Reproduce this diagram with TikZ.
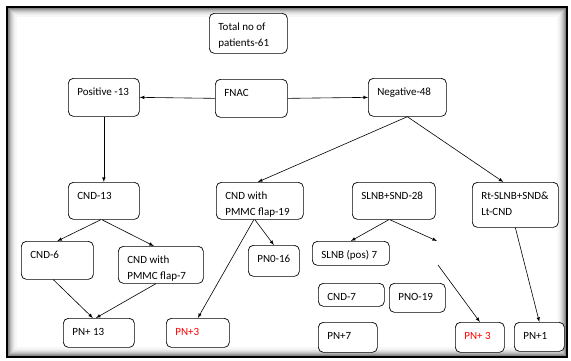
\documentclass[tikz,border=0pt]{standalone}
\usepackage{fontspec}
\setmainfont{Carlito}
\usepackage{tikz}
\tikzset{
    every node/.style={font=\fontsize{11}{16}\selectfont}
}
\tikzset{
    blk/.style={draw, rounded corners=5pt, line width=0.7pt, inner sep=0pt,
    	anchor=north west, fill=white}
}
\tikzset{
    every edge/.append style={->, >=latex, line width=0.6pt}
}
\newcommand{\boxlabel}[3]{\parbox[t][#2pt][t]{#1pt}{\leftskip=9pt
  \rightskip=0pt plus 1fil\rule{0pt}{17pt}#3}}

\begin{document}
\begin{tikzpicture}[x=1pt, y=-1pt]
  \useasboundingbox (0,0) rectangle (571,360);
  % frame with inner shadow
  \foreach \i/\c in {1/60,2/48,3/38,4/29,5/21,6/15,7/10,8/6,9/3}
    \draw [line width=1.2pt, black!\c] (7+\i,7+\i) rectangle (567-\i,357-\i);
  \draw [line width=1.5pt] (7,7) rectangle (567,357);

  \node (total) [blk] at (209,13) {\boxlabel{78}{40}{Total no of\\patients-61}};
  \node (pos) [blk] at (68,78) {\boxlabel{71}{38}{Positive -13}};
  \node (fnac) [blk] at (215,79) {\boxlabel{72}{38}{FNAC}};
  \node (neg) [blk] at (368,78) {\boxlabel{78}{38}{Negative-48}};

  \node (cnd13) [blk] at (68,182) {\boxlabel{71}{37}{CND-13}};
  \node (flap19) [blk] at (216,182) {\boxlabel{87}{37}{CND with\\PMMC flap-19}};
  \node (slnb28) [blk] at (352,182) {\boxlabel{83}{37}{SLNB+SND-28}};
  \node (rt) [blk] at (472,182) {\boxlabel{86}{45}{Rt-SLNB+SND\&\\Lt-CND}};

  \node (cnd6) [blk] at (21,241) {\boxlabel{72}{38}{CND-6}};
  \node (flap7) [blk] at (118,246) {\boxlabel{85}{37}{CND with\\PMMC flap-7}};
  \node (pn016) [blk] at (248,245) {\boxlabel{51}{31}{PN0-16}};
  \node (slnbpos) [blk] at (312,241) {\boxlabel{77}{24}{SLNB (pos) 7}};
  \node (cnd7) [blk] at (318,283) {\boxlabel{66}{23}{CND-7}};
  \node (pno19) [blk] at (389,283) {\boxlabel{56}{29}{PNO-19}};

  \node (pn13) [blk] at (63,318) {\boxlabel{71}{29}{PN+ 13}};
  \node (pn3a) [blk, text=red] at (166,318) {\boxlabel{63}{29}{PN+3}};
  \node (pn7) [blk] at (318,322) {\boxlabel{59}{30}{PN+7}};
  \node (pn3b) [blk, text=red] at (455,322) {\boxlabel{49}{30}{PN+ 3}};
  \node (pn1) [blk] at (514,322) {\boxlabel{50}{29}{PN+1}};

  \coordinate (gap1) at (437,241);
  \coordinate (gap2) at (438,265);

  \draw (fnac.west) edge (pos.east);
  \draw (fnac.east) edge (neg.west);
  \draw (pos.south) edge (cnd13.north);
  \draw (neg.south) edge ([xshift=-2pt]flap19.north);
  \draw (neg.south) edge ([xshift=-12pt]rt.north);

  \draw ([xshift=-3pt]cnd13.south) edge (cnd6.north);
  \draw ([xshift=-2pt]cnd13.south) edge ([xshift=-7pt]flap7.north);
  \draw ([xshift=-4pt]cnd6.south) edge ([xshift=-6pt]pn13.north);
  \draw ([xshift=-5pt]flap7.south) edge ([xshift=-3pt]pn13.north);
  \draw ([xshift=-6pt]flap19.south) edge (pn3a.north);
  \draw ([xshift=-5pt]flap19.south) edge (pn016.north);

  \draw ([xshift=-5pt]slnb28.south) edge (slnbpos.north);
  \draw ([xshift=-4pt]slnb28.south) edge (gap1);
  \draw (gap2) edge (pn3b.north);
  \draw (rt.south) edge (pn1.north);
\end{tikzpicture}
\end{document}
